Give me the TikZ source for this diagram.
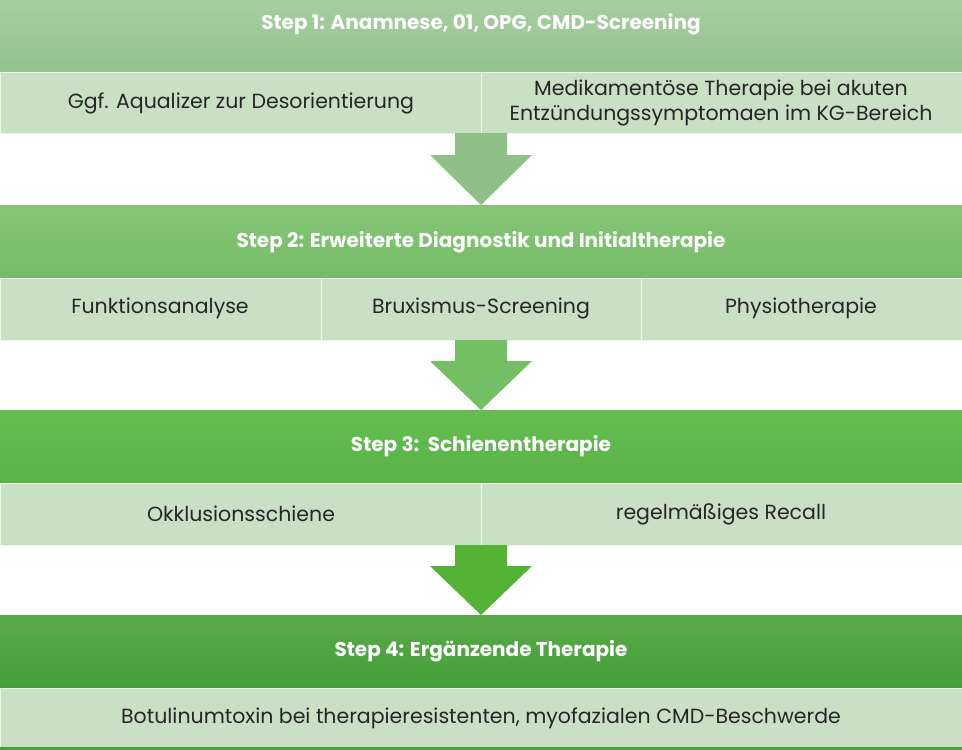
\documentclass[tikz,border=0pt]{standalone}
\usepackage{fontspec}
\setmainfont{Poppins}
\definecolor{subc}{HTML}{C9E0C4}
\definecolor{h1t}{RGB}{166,205,160}\definecolor{h1b}{RGB}{148,195,141}
\definecolor{h2t}{RGB}{132,198,118}\definecolor{h2b}{RGB}{118,188,104}
\definecolor{h3t}{RGB}{100,190,80}\definecolor{h3b}{RGB}{88,178,70}
\definecolor{h4t}{RGB}{88,170,72}\definecolor{h4b}{RGB}{70,160,58}
\definecolor{a1}{RGB}{143,192,136}\definecolor{a2}{RGB}{116,190,99}\definecolor{a3}{RGB}{84,178,52}
\begin{document}
\begin{tikzpicture}[x=1pt,y=-1pt,
 hdr/.style={font=\bfseries\fontsize{20}{24}\selectfont,text=white},
 sub/.style={font=\fontsize{20.5}{25}\selectfont,text=black!85,align=center},
 subbox/.style={fill=subc,draw=white!70!subc,line width=0.6pt}]
\useasboundingbox (0,0) rectangle (962,750);
% step 1
\shade[top color=h1t, bottom color=h1b] (0,0) rectangle (962,72);
\node[hdr] (h1) at (481,24) {Step 1: Anamnese, 01, OPG, CMD-Screening};
\path[subbox] (0,72) rectangle (481,133) (481,72) rectangle (962,133);
\node[sub] (s11) at (241,103) {Ggf. Aqualizer zur Desorientierung};
\node[sub] (s12) at (721,103) {Medikamentöse Therapie bei akuten\\Entzündungssymptomaen im KG-Bereich};
\fill[a1] (455,133) -- (507,133) -- (507,155) -- (532,155) -- (481,205) -- (430,155) -- (455,155) -- cycle;
% step 2
\shade[top color=h2t, bottom color=h2b] (0,205) rectangle (962,278);
\node[hdr] (h2) at (481,242) {Step 2: Erweiterte Diagnostik und Initialtherapie};
\path[subbox] (0,278) rectangle (321,340) (321,278) rectangle (641,340) (641,278) rectangle (962,340);
\node[sub] (s21) at (160,308) {Funktionsanalyse};
\node[sub] (s22) at (481,308) {Bruxismus-Screening};
\node[sub] (s23) at (801,308) {Physiotherapie};
\fill[a2] (455,340) -- (507,340) -- (507,361) -- (532,361) -- (481,410) -- (430,361) -- (455,361) -- cycle;
% step 3
\shade[top color=h3t, bottom color=h3b] (0,410) rectangle (962,483);
\node[hdr] (h3) at (481,446) {Step 3:\ \ Schienentherapie};
\path[subbox] (0,483) rectangle (481,545) (481,483) rectangle (962,545);
\node[sub] (s31) at (241,514) {Okklusionsschiene};
\node[sub] (s32) at (721,514) {regelmäßiges Recall};
\fill[a3] (455,545) -- (507,545) -- (507,566) -- (532,566) -- (481,615) -- (430,566) -- (455,566) -- cycle;
% step 4
\shade[top color=h4t, bottom color=h4b] (0,615) rectangle (962,688);
\node[hdr] (h4) at (481,651) {Step 4: Ergänzende Therapie};
\path[subbox] (0,688) rectangle (962,750);
\fill[h4b] (0,747) rectangle (962,750);
\node[sub] (s41) at (481,718) {Botulinumtoxin bei therapieresistenten, myofazialen CMD-Beschwerde};
\end{tikzpicture}
\end{document}
